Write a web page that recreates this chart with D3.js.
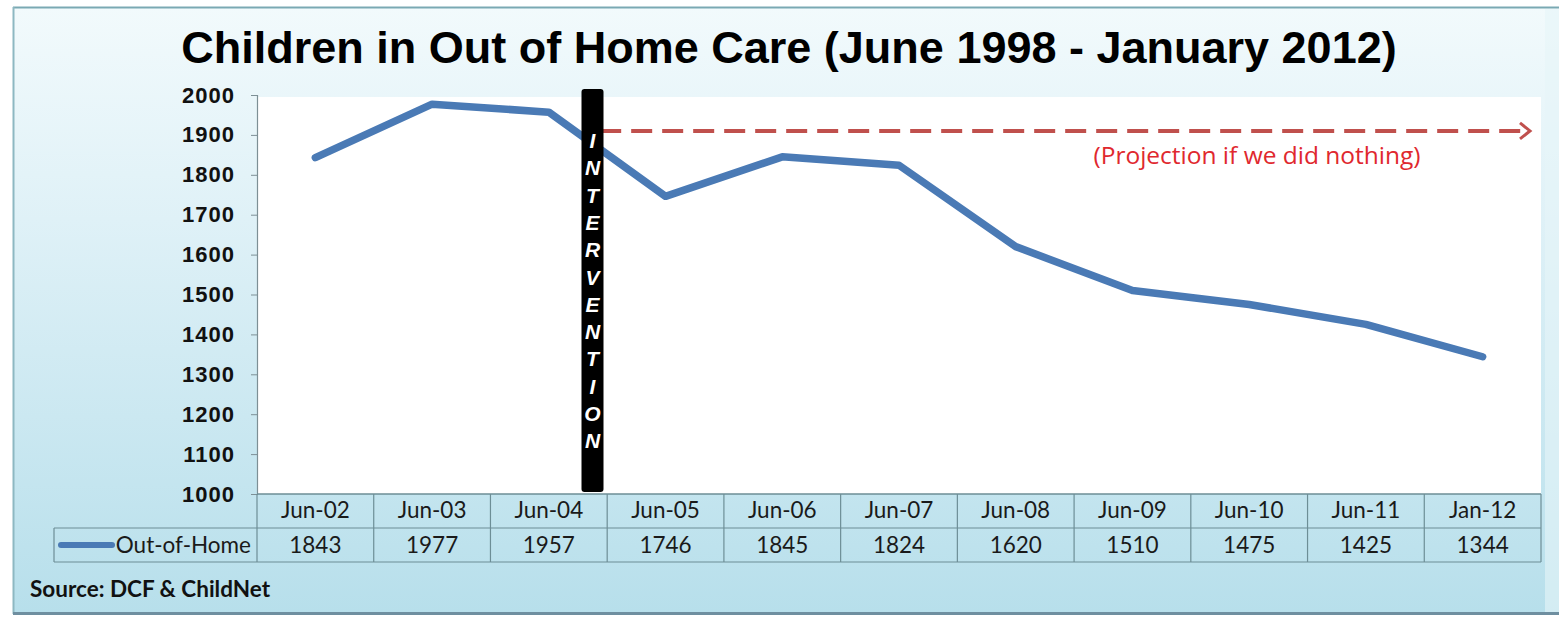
<!DOCTYPE html>
<html><head><meta charset="utf-8">
<script src="https://cdn.jsdelivr.net/npm/d3@7"></script>
<style>html,body{margin:0;padding:0;background:#fff;}svg{display:block;}</style>
</head><body>
<svg id="chart" width="1559" height="617"></svg>
<script>
const categories = ["Jun-02","Jun-03","Jun-04","Jun-05","Jun-06","Jun-07","Jun-08","Jun-09","Jun-10","Jun-11","Jan-12"];
const outOfHome = [1843,1977,1957,1746,1845,1824,1620,1510,1475,1425,1344];
const yTicks = [1000,1100,1200,1300,1400,1500,1600,1700,1800,1900,2000];
const seriesName = "Out-of-Home";
const titleText = "Children in Out of Home Care (June 1998 - January 2012)";
const interventionLetters = "INTERVENTION".split("");
const projectionValue = 1910;
const projectionLabel = "(Projection if we did nothing)";
const sourceText = "Source: DCF & ChildNet";

(function(){
const svg = d3.select("#chart");
const W = 1559, H = 617;
const pL = 257, pR = 1541, pT = 95, pB = 494;
const rowH = 34;

const defs = svg.append("defs");
const g1 = defs.append("linearGradient").attr("id","bg").attr("x1",0).attr("y1",0).attr("x2",0).attr("y2",1);
g1.append("stop").attr("offset","0%").attr("stop-color","#f2fafc");
g1.append("stop").attr("offset","35%").attr("stop-color","#dff1f7");
g1.append("stop").attr("offset","100%").attr("stop-color","#b7dfeb");

// frame
svg.append("rect").attr("x",13).attr("y",7).attr("width",W-13).attr("height",H-7-3).attr("fill","url(#bg)");
svg.append("rect").attr("x",1545).attr("y",9).attr("width",14).attr("height",H-13).attr("fill","#e6f5f9").attr("opacity",0.6);
svg.append("line").attr("x1",13).attr("x2",W).attr("y1",7.5).attr("y2",7.5).attr("stroke","#7aa9b3").attr("stroke-width",2);
svg.append("line").attr("x1",13.5).attr("x2",13.5).attr("y1",7).attr("y2",H-3).attr("stroke","#8db8c2").attr("stroke-width",2);
svg.append("line").attr("x1",13).attr("x2",W).attr("y1",H-3.5).attr("y2",H-3.5).attr("stroke","#6f8fa0").attr("stroke-width",3);

const x = d3.scaleBand().domain(categories).range([pL,pR]).paddingInner(0).paddingOuter(0);
const y = d3.scaleLinear().domain([1000,2000]).range([pB,pT]);
const cx = d => x(d) + x.bandwidth()/2;

// plot area
svg.append("rect").attr("x",pL).attr("y",pT+2).attr("width",pR-pL).attr("height",pB-pT-2).attr("fill","#ffffff");

// title
svg.append("text").attr("x",789).attr("y",63).attr("text-anchor","middle")
  .attr("font-family","Liberation Sans, Arial, sans-serif").attr("font-weight","bold").attr("font-size",45)
  .attr("fill","#000").text(titleText);

// y axis
const yAxis = d3.axisLeft(y).tickValues(yTicks).tickSize(6).tickPadding(16).tickFormat(d3.format("d"));
const ya = svg.append("g").attr("transform",`translate(${pL},0)`).call(yAxis);
ya.select(".domain").attr("stroke","#7d8f95").attr("stroke-width",1.2);
ya.selectAll(".tick line").attr("stroke","#7d8f95");
ya.selectAll(".tick text").attr("font-family","Liberation Sans, Arial, sans-serif").attr("font-weight","bold")
  .attr("font-size",22).attr("letter-spacing","1px").attr("fill","#111");

// table
const tbl = svg.append("g");
const lineCol = "#6d8e96";
tbl.append("line").attr("x1",pL).attr("x2",pR).attr("y1",pB).attr("y2",pB).attr("stroke",lineCol).attr("stroke-width",1.3);
tbl.append("line").attr("x1",54).attr("x2",pR).attr("y1",pB+rowH).attr("y2",pB+rowH).attr("stroke",lineCol).attr("stroke-width",1.2);
tbl.append("line").attr("x1",54).attr("x2",pR).attr("y1",pB+2*rowH).attr("y2",pB+2*rowH).attr("stroke",lineCol).attr("stroke-width",1.2);
tbl.append("line").attr("x1",54).attr("x2",54).attr("y1",pB+rowH).attr("y2",pB+2*rowH).attr("stroke",lineCol).attr("stroke-width",1.2);
const bounds = categories.map(c => x(c)).concat([pR]);
tbl.selectAll("line.v").data(bounds).enter().append("line").attr("class","v")
  .attr("x1",d=>d).attr("x2",d=>d).attr("y1",pB).attr("y2",pB+2*rowH).attr("stroke",lineCol).attr("stroke-width",1.2);
tbl.selectAll("text.h").data(categories).enter().append("text").attr("class","h")
  .attr("x",d=>cx(d)).attr("y",pB+24).attr("text-anchor","middle")
  .attr("font-family","Lato, sans-serif").attr("font-size",22.5).attr("fill","#1a1a1a").text(d=>d);
tbl.selectAll("text.v").data(outOfHome).enter().append("text").attr("class","v")
  .attr("x",(d,i)=>cx(categories[i])).attr("y",pB+rowH+25).attr("text-anchor","middle")
  .attr("font-family","Lato, sans-serif").attr("font-size",22.5).attr("fill","#1a1a1a").text(d=>d);
// legend key
tbl.append("line").attr("x1",61).attr("x2",112).attr("y1",pB+rowH+17).attr("y2",pB+rowH+17)
  .attr("stroke","#4a7ab5").attr("stroke-width",6).attr("stroke-linecap","round");
tbl.append("text").attr("x",251).attr("y",pB+rowH+25).attr("text-anchor","end")
  .attr("font-family","Lato, sans-serif").attr("font-size",22.5).attr("fill","#1a1a1a").text(seriesName);

// series line
const line = d3.line().x((d,i)=>cx(categories[i])).y(d=>y(d));
svg.append("path").datum(outOfHome).attr("d",line).attr("fill","none")
  .attr("stroke","#4a7ab5").attr("stroke-width",7.5).attr("stroke-linejoin","round").attr("stroke-linecap","round");

// projection dashed arrow
const projY = y(projectionValue);
const pStart = x("Jun-04") + x.bandwidth()*0.94;
const pEnd = pR - 11;
svg.append("line").attr("x1",pStart).attr("x2",pEnd-2).attr("y1",projY).attr("y2",projY)
  .attr("stroke","#c0504d").attr("stroke-width",4).attr("stroke-dasharray","21,10");
svg.append("path").attr("d",`M${pEnd-10},${projY-8}L${pEnd},${projY}L${pEnd-10},${projY+8}`)
  .attr("fill","none").attr("stroke","#c0504d").attr("stroke-width",3);
svg.append("text").attr("x",1257).attr("y",projY+33).attr("text-anchor","middle")
  .attr("font-family","Open Sans, sans-serif").attr("font-size",24.5).attr("fill","#e0282e").text(projectionLabel);

// intervention bar
const barX = x("Jun-04") + x.bandwidth()*0.78;
svg.append("rect").attr("x",barX).attr("y",89).attr("width",22).attr("height",pB-2-89).attr("rx",3)
  .attr("fill","#000");
svg.selectAll("text.iv").data(interventionLetters).enter().append("text").attr("class","iv")
  .attr("x",barX+11).attr("y",(d,i)=>148 + i*27.3).attr("text-anchor","middle")
  .attr("font-family","Liberation Sans, Arial, sans-serif").attr("font-weight","bold").attr("font-style","italic")
  .attr("font-size",21).attr("fill","#fff").text(d=>d);

// source
svg.append("text").attr("x",30).attr("y",597).attr("font-family","Lato, sans-serif").attr("font-weight","bold")
  .attr("font-size",22.5).attr("fill","#111").text(sourceText);
})();
</script>
</body></html>
